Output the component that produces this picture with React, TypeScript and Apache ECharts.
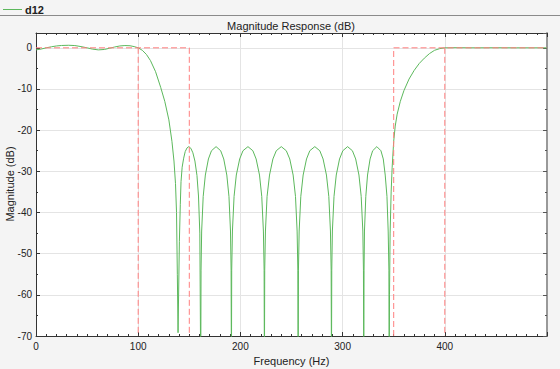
import React, { useEffect, useRef } from "react";
import * as echarts from "echarts";

// Magnitude response (frequency Hz, magnitude dB)
const freqHz: number[] = [
  0, 5, 10, 15, 20, 25, 32, 38, 44, 50, 55, 61, 67, 72, 77, 82, 87, 92, 96, 100,
  104, 108, 112, 117, 122, 126, 130, 133, 135, 136.5, 137.5, 138.3, 139,
  140.3, 141.2, 141.9, 143, 144.5, 146, 147.8, 149.5, 151.5, 153.5, 155.5, 157.5, 159, 160.3, 161.2,
  161.5, 162.1, 163.6, 165.7, 168.7, 171.7, 176.2, 180.7, 183.7, 186.7, 188.8, 190.3, 190.9, 191.2,
  191.5, 192.2, 193.8, 196.0, 199.3, 202.5, 207.4, 212.2, 215.4, 218.7, 220.9, 222.5, 223.2, 223.5,
  223.8, 224.5, 226.1, 228.5, 231.8, 235.1, 240.0, 244.9, 248.3, 251.6, 253.9, 255.5, 256.2, 256.5,
  256.8, 257.5, 259.1, 261.4, 264.7, 267.9, 272.8, 277.7, 280.9, 284.2, 286.5, 288.1, 288.8, 289.1,
  289.4, 290.0, 291.6, 293.8, 297.0, 300.2, 304.9, 309.6, 312.8, 316.0, 318.2, 319.8, 320.4, 320.7,
  321.0, 321.4, 322.7, 324.4, 326.9, 329.4, 333.5, 337.5, 339.8, 341.7, 343.4, 344.6, 345.3, 345.6,
  345.9, 346.5, 347.5, 348.5, 350, 351.5, 353.4, 356.5, 360, 365, 370, 375, 380, 385, 390, 395, 400,
  410, 430, 450, 470, 500,
];
const magDb: number[] = [
  -0.5, -0.3, 0.0, 0.25, 0.45, 0.57, 0.62, 0.55, 0.3, 0.0, -0.3, -0.5, -0.4, -0.1, 0.2, 0.45, 0.55, 0.5, 0.3, 0.0,
  -0.6, -1.6, -3.1, -5.8, -9.6, -13.0, -17.5, -22.7, -27.5, -33, -40, -55, -69.2,
  -47, -38, -32.5, -29, -26.8, -25.2, -24.3, -24, -24.4, -25.5, -27.5, -31, -36, -45, -80,
  -54, -44.5, -36.1, -30.9, -27, -25, -24, -25, -27, -30.9, -36.1, -44.5, -54, -80,
  -54, -44.5, -36.1, -30.9, -27, -25, -24, -25, -27, -30.9, -36.1, -44.5, -54, -80,
  -54, -44.5, -36.1, -30.9, -27, -25, -24, -25, -27, -30.9, -36.1, -44.5, -54, -80,
  -54, -44.5, -36.1, -30.9, -27, -25, -24, -25, -27, -30.9, -36.1, -44.5, -54, -80,
  -54, -44.5, -36.1, -30.9, -27, -25, -24, -25, -27, -30.9, -36.1, -44.5, -54, -80,
  -54, -44.5, -36.1, -30.9, -27, -25, -24, -25, -27, -30.9, -36.1, -44.5, -54, -80,
  -60, -45, -35, -29, -22.7, -19, -16.1, -13, -10.4, -7.6, -5.5, -3.8, -2.5, -1.4, -0.6, -0.2, 0,
  0.03, 0, 0.02, 0, 0,
];

// Specification mask segments (Hz, dB)
const maskPass1: [number, number][] = [[0, 0], [150, 0]];
const maskFpass1: [number, number][] = [[100, 0], [100, -70]];
const maskFstop1: [number, number][] = [[150, 0], [150, -70]];
const maskStop2: [number, number][] = [[350, -70], [350, 0], [500, 0]];
const maskFpass2: [number, number][] = [[400, 0], [400, -70]];

const xTicks = [0, 100, 200, 300, 400];
const yTicks = [0, -10, -20, -30, -40, -50, -60, -70];

const FONT = "'Liberation Sans', Arial, Helvetica, sans-serif";

export default function App() {
  const ref = useRef<HTMLDivElement>(null);
  useEffect(() => {
    document.body.style.margin = "0";
    if (!ref.current) return;
    const chart = echarts.init(ref.current, undefined, { renderer: "svg" });
    const response = freqHz.map((f, i) => [f, magDb[i]]);
    const maskStyle = { color: "#ff7f7f", width: 1, type: [6, 3] as any };
    const maskSeries = [maskPass1, maskFpass1, maskFstop1, maskStop2, maskFpass2].map((d) => ({
      type: "line",
      data: d,
      xAxisIndex: 0,
      yAxisIndex: 0,
      symbol: "none",
      lineStyle: maskStyle,
      z: 4,
      silent: true,
    }));
    const tickStyle = { color: "#333" };
    chart.setOption({
      animation: false,
      backgroundColor: "#f4f4f4",
      textStyle: { fontFamily: FONT },
      grid: {
        left: 36,
        right: 13,
        top: 33,
        bottom: 33,
        containLabel: false,
        outerBoundsMode: "none",
        show: true,
        backgroundColor: "#ffffff",
        borderWidth: 0,
      },
      xAxis: [
        {
          type: "value",
          min: 0,
          max: 500,
          interval: 100,
          position: "bottom",
          axisLine: { show: true, onZero: false, lineStyle: { color: "#333", width: 1 } },
          axisTick: { show: true, inside: true, length: 4, lineStyle: tickStyle },
          minorTick: { show: true, splitNumber: 10, length: 2, lineStyle: tickStyle },
          axisLabel: {
            showMaxLabel: false,
            margin: 5,
            fontSize: 10,
            color: "#222",
            fontFamily: FONT,
            formatter: (v: number) => (xTicks.includes(v) ? String(v) : ""),
          },
          splitLine: { show: true, lineStyle: { color: "#e4e4e4", width: 1 } },
          name: "Frequency (Hz)",
          nameLocation: "middle",
          nameGap: 16,
          nameTextStyle: { fontSize: 11, color: "#222", fontFamily: FONT },
        },
        {
          type: "value",
          min: 0,
          max: 500,
          interval: 100,
          position: "top",
          axisLine: { show: true, onZero: false, lineStyle: { color: "#333", width: 1 } },
          axisTick: { show: true, inside: true, length: 4, lineStyle: tickStyle },
          minorTick: { show: true, splitNumber: 10, length: 2, lineStyle: tickStyle },
          axisLabel: { show: false },
          splitLine: { show: false },
        },
      ],
      yAxis: [
        {
          type: "value",
          min: -70,
          max: 3.6,
          interval: 10,
          position: "left",
          axisLine: { show: true, onZero: false, lineStyle: { color: "#333", width: 1 } },
          axisTick: { show: true, inside: true, length: 4, lineStyle: tickStyle },
          minorTick: { show: true, splitNumber: 2, length: 2, lineStyle: tickStyle },
          axisLabel: {
            showMaxLabel: false,
            margin: 4,
            fontSize: 10,
            color: "#222",
            fontFamily: FONT,
            formatter: (v: number) => (yTicks.includes(v) ? String(v) : ""),
          },
          splitLine: { show: true, lineStyle: { color: "#e4e4e4", width: 1 } },
        },
        {
          type: "value",
          min: -70,
          max: 3.6,
          interval: 10,
          position: "right",
          axisLine: { show: true, onZero: false, lineStyle: { color: "#999", width: 2 } },
          axisTick: { show: true, inside: true, length: 4, lineStyle: { color: "#555" } },
          minorTick: { show: true, splitNumber: 2, length: 2, lineStyle: { color: "#555" } },
          axisLabel: { show: false },
          splitLine: { show: false },
        },
      ],
      title: {
        text: "Magnitude Response (dB)",
        left: 291,
        top: 20,
        padding: 0,
        textAlign: "center",
        textStyle: { fontSize: 11, fontWeight: "normal", color: "#222", fontFamily: FONT },
      },
      graphic: [
        {
          type: "line",
          shape: { x1: 0, y1: 15.5, x2: 560, y2: 15.5 },
          style: { stroke: "#8a8a8a", lineWidth: 1 },
        },
        {
          type: "line",
          shape: { x1: 3, y1: 9.5, x2: 22, y2: 9.5 },
          style: { stroke: "#5cb85c", lineWidth: 1 },
        },
        {
          type: "text",
          x: 25,
          y: 9.5,
          style: {
            text: "d12",
            fontSize: 11,
            fontWeight: "bold",
            fill: "#222",
            fontFamily: FONT,
            verticalAlign: "middle",
          },
        },
        {
          type: "text",
          x: 10,
          y: 184,
          rotation: Math.PI / 2,
          style: {
            text: "Magnitude (dB)",
            fontSize: 11,
            fill: "#222",
            fontFamily: FONT,
            align: "center",
            verticalAlign: "middle",
          },
        },
      ],
      series: [
        {
          type: "line",
          name: "d12",
          data: response,
          xAxisIndex: 0,
          yAxisIndex: 0,
          symbol: "none",
          lineStyle: { color: "#5cb85c", width: 1 },
          clip: true,
          z: 3,
        },
        ...maskSeries,
      ],
    });
    return () => chart.dispose();
  }, []);
  return <div ref={ref} style={{ width: 560, height: 369 }} />;
}
